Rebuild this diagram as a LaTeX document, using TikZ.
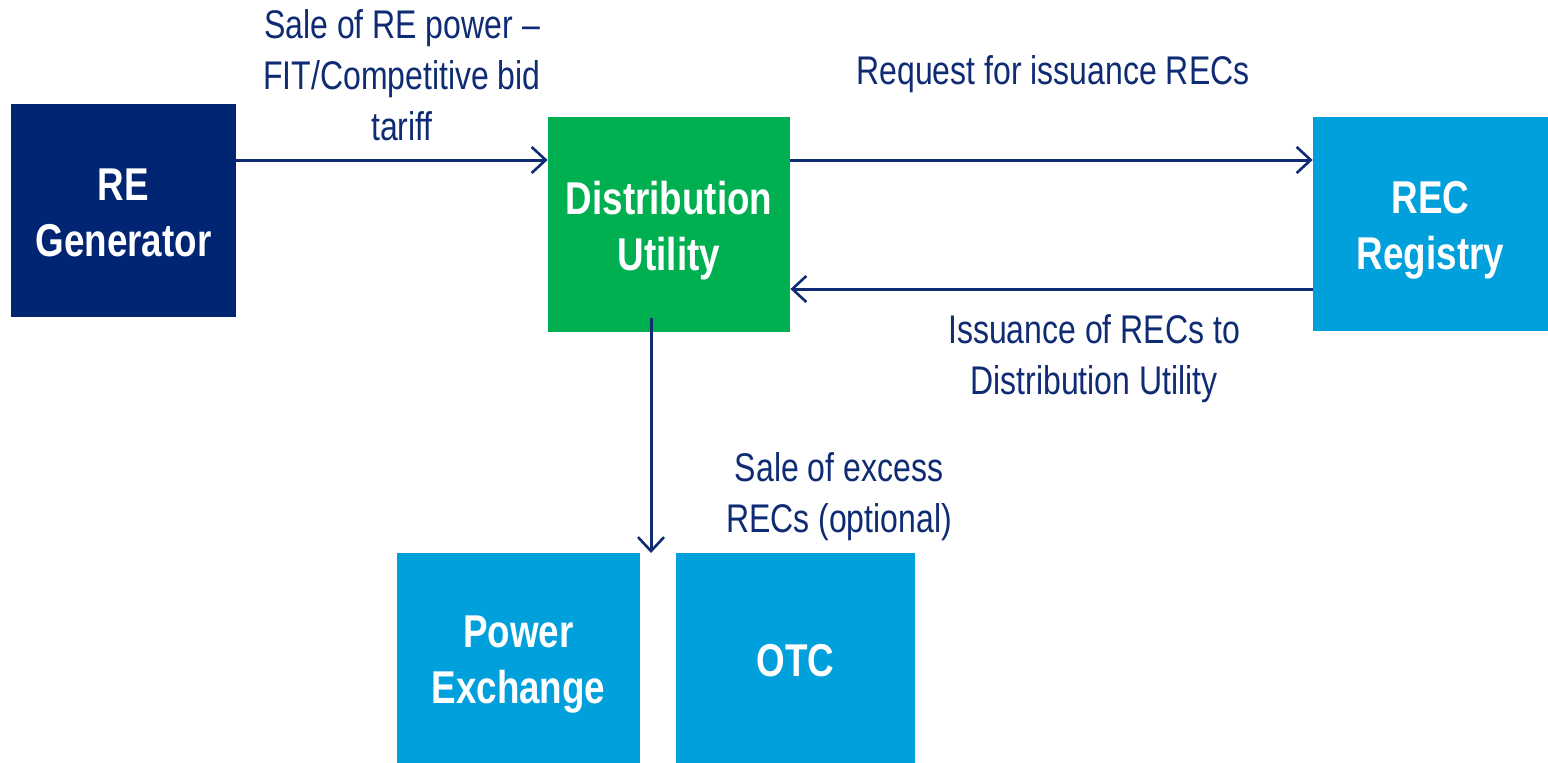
\documentclass[tikz,border=0pt]{standalone}
\usepackage{fontspec}
\setmainfont[FakeStretch=0.8]{Liberation Sans}
\usetikzlibrary{arrows.meta}
\definecolor{navy}{HTML}{002673}
\definecolor{linec}{HTML}{0E2B74}
\definecolor{grn}{HTML}{00B050}
\definecolor{lblue}{HTML}{00A0DC}
\tikzset{
  box/.style={rectangle, inner sep=0pt},
  btxt/.style={text=white, align=center, inner sep=0pt,
    font=\bfseries\fontsize{23}{28}\selectfont},
  lbl/.style={text=linec, align=center, inner sep=0pt,
    font=\fontsize{20}{25.5}\selectfont},
  conn/.style={draw=linec, line width=1.5pt,
    -{Straight Barb[length=7pt,width=13pt,line width=1.3pt]}}
}
\begin{document}
\begin{tikzpicture}[x=0.5pt,y=-0.5pt]
\useasboundingbox (0,0) rectangle (1548,762);
\node[box, fill=navy, minimum width=112.5pt, minimum height=106.5pt,
  label={[btxt, name=gent, yshift=-1.3pt]center:{RE\\Generator}}] (gen) at (123.5,210.5) {};
\node[box, fill=grn, minimum width=121pt, minimum height=107.5pt,
  label={[btxt, name=dut, yshift=-3pt]center:{Distribution\\Utility}}] (du) at (669,224.5) {};
\node[box, fill=lblue, minimum width=117.5pt, minimum height=107pt,
  label={[btxt, name=regt, yshift=-3pt]center:{REC\\Registry}}] (reg) at (1430.5,224) {};
\node[box, fill=lblue, minimum width=121.5pt, minimum height=105pt,
  label={[btxt, name=pet, yshift=-3.7pt]center:{Power\\Exchange}}] (pe) at (518.5,657.5) {};
\node[box, fill=lblue, minimum width=119.5pt, minimum height=105pt,
  label={[btxt, name=otct, yshift=-1.5pt]center:{OTC}}] (otc) at (795.5,657.5) {};

\node[lbl] (l1) at (402,75) {Sale of RE power –\\FIT/Competitive bid\\tariff};
\node[lbl] (l2) at (1053,74) {Request for issuance RECs};
\node[lbl] (l3) at (1094,359) {Issuance of RECs to\\Distribution Utility};
\node[lbl] (l4) at (839,497) {Sale of excess\\RECs (optional)};

\coordinate (g1) at (gen.east |- 0,160);
\coordinate (d1) at (du.west |- 0,160);
\coordinate (d2) at (du.east |- 0,160);
\coordinate (r1) at (reg.west |- 0,160);
\coordinate (r2) at (reg.west |- 0,289);
\coordinate (d3) at (du.east |- 0,289);
\coordinate (d4) at (651,318);
\coordinate (p1) at (651,553);

\draw[conn] (g1) -- (d1);
\draw[conn] (d2) -- (r1);
\draw[conn] (r2) -- (d3);
\draw[conn] (d4) -- (p1);
\end{tikzpicture}
\end{document}
